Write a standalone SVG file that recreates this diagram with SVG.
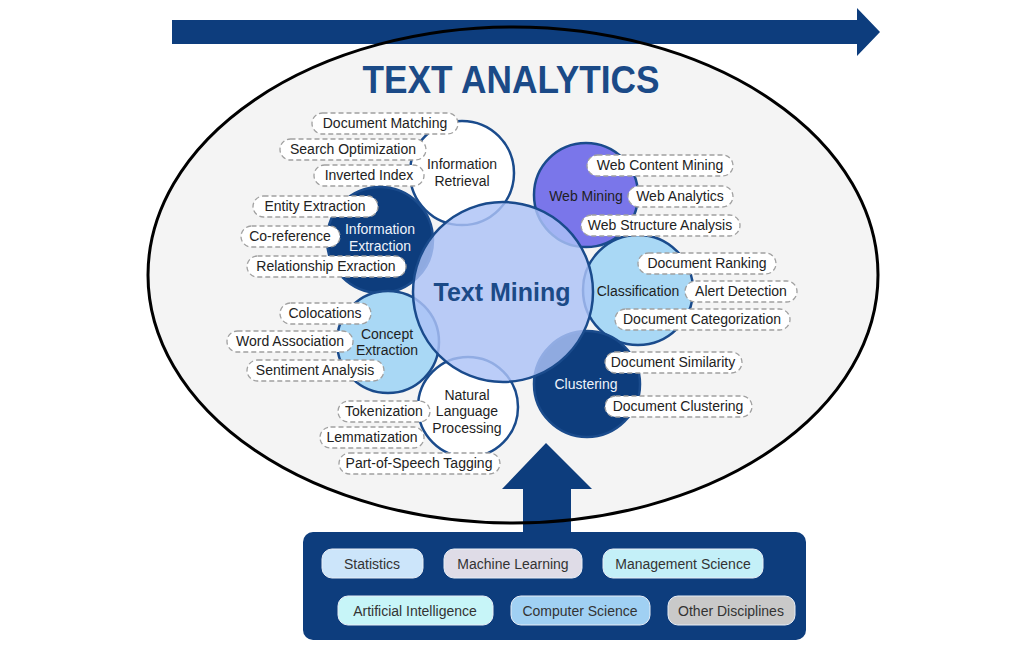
<svg xmlns="http://www.w3.org/2000/svg" width="1016" height="647" viewBox="0 0 1016 647">
<defs>
<style>
text{font-family:"Liberation Sans",Arial,sans-serif;}
.pill rect{fill:#ffffff;stroke:#a0a0a0;stroke-width:1.3;stroke-dasharray:5 3;}
.pill text{font-size:14px;fill:#222;text-anchor:middle;}
.sat{stroke:#1a4b8c;stroke-width:2.5;}
.lbl{font-size:14px;fill:#1e1e1e;text-anchor:middle;}
.lblw{font-size:14px;fill:#eef3fb;text-anchor:middle;}
.btn rect{stroke:#e8eef6;stroke-width:1;}
.btn text{font-size:14px;fill:#333;text-anchor:middle;}
.navy{fill:#0d3d7d;}
</style>
</defs>
<rect width="1016" height="647" fill="#ffffff"/>
<ellipse cx="513" cy="275" rx="365" ry="248" fill="#f4f4f4"/>
<g id="connectors">
<path class="navy" d="M172 20 H857 V8 L880 32 L857 56 V44 H172 Z"/>
<path class="navy" d="M523 534 V489 H502 L546 443 L592 489 H571 V534 Z"/>
</g>
<ellipse cx="513" cy="275" rx="365" ry="248" fill="none" stroke="#000" stroke-width="3"/>
<g id="title"><text x="511" y="93" font-size="38" font-weight="bold" fill="#1b4a87" text-anchor="middle" textLength="297" lengthAdjust="spacingAndGlyphs">TEXT ANALYTICS</text></g>

<g id="information-retrieval">
<circle class="sat" cx="462" cy="173" r="52" fill="#ffffff"/>
<text class="lbl" x="462" y="169">Information</text>
<text class="lbl" x="462" y="186">Retrieval</text>
<g class="pill"><rect x="312" y="113" width="146" height="21" rx="10.5"/><text x="385" y="128">Document Matching</text></g>
<g class="pill"><rect x="280" y="139" width="146" height="21" rx="10.5"/><text x="353" y="154">Search Optimization</text></g>
<g class="pill"><rect x="314" y="165" width="110" height="21" rx="10.5"/><text x="369" y="180">Inverted Index</text></g>
</g>

<g id="information-extraction">
<circle class="sat" cx="380" cy="240" r="53" fill="#0d3d7d"/>
<text class="lblw" x="380" y="234">Information</text>
<text class="lblw" x="380" y="251">Extraction</text>
<g class="pill"><rect x="253" y="196" width="125" height="21" rx="10.5"/><text x="315" y="211">Entity Extraction</text></g>
<g class="pill"><rect x="241" y="226" width="99" height="21" rx="10.5"/><text x="290" y="241">Co-reference</text></g>
<g class="pill"><rect x="247" y="256" width="159" height="21" rx="10.5"/><text x="326" y="271">Relationship Exraction</text></g>
</g>

<g id="concept-extraction">
<circle class="sat" cx="388" cy="342" r="51" fill="#a9d8f5"/>
<text class="lbl" x="387" y="339">Concept</text>
<text class="lbl" x="387" y="355">Extraction</text>
<g class="pill"><rect x="280" y="303" width="91" height="21" rx="10.5"/><text x="325" y="318">Colocations</text></g>
<g class="pill"><rect x="227" y="331" width="126" height="21" rx="10.5"/><text x="290" y="346">Word Association</text></g>
<g class="pill"><rect x="247" y="360" width="137" height="21" rx="10.5"/><text x="315" y="375">Sentiment Analysis</text></g>
</g>

<g id="natural-language-processing">
<circle class="sat" cx="468" cy="407" r="50" fill="#ffffff"/>
<text class="lbl" x="467" y="400">Natural</text>
<text class="lbl" x="467" y="416">Language</text>
<text class="lbl" x="467" y="433">Processing</text>
<g class="pill"><rect x="338" y="401" width="92" height="21" rx="10.5"/><text x="384" y="416">Tokenization</text></g>
<g class="pill"><rect x="320" y="427" width="104" height="21" rx="10.5"/><text x="372" y="442">Lemmatization</text></g>
<g class="pill"><rect x="339" y="453" width="161" height="21" rx="10.5"/><text x="419" y="468">Part-of-Speech Tagging</text></g>
</g>

<g id="classification">
<circle class="sat" cx="638" cy="290" r="55" fill="#a9d8f5"/>
<text class="lbl" x="638" y="296">Classification</text>
<g class="pill"><rect x="638" y="253" width="138" height="21" rx="10.5"/><text x="707" y="268">Document Ranking</text></g>
<g class="pill"><rect x="685" y="281" width="112" height="21" rx="10.5"/><text x="741" y="296">Alert Detection</text></g>
<g class="pill"><rect x="615" y="309" width="175" height="21" rx="10.5"/><text x="702" y="324">Document Categorization</text></g>
</g>

<g id="web-mining">
<circle class="sat" cx="586" cy="195" r="52" fill="#7a76ea"/>
<text class="lbl" x="586" y="201">Web Mining</text>
<g class="pill"><rect x="587" y="155" width="146" height="21" rx="10.5"/><text x="660" y="170">Web Content Mining</text></g>
<g class="pill"><rect x="628" y="186" width="105" height="21" rx="10.5"/><text x="680" y="201">Web Analytics</text></g>
<g class="pill"><rect x="581" y="215" width="159" height="21" rx="10.5"/><text x="660" y="230">Web Structure Analysis</text></g>
</g>

<g id="clustering">
<circle class="sat" cx="587" cy="384" r="53" fill="#0d3d7d"/>
<text class="lblw" x="586" y="389">Clustering</text>
<g class="pill"><rect x="605" y="352" width="137" height="21" rx="10.5"/><text x="673" y="367">Document Similarity</text></g>
<g class="pill"><rect x="605" y="396" width="147" height="21" rx="10.5"/><text x="678" y="411">Document Clustering</text></g>
</g>

<g id="text-mining">
<circle cx="503" cy="292" r="90" fill="#acc2f6" fill-opacity="0.82" stroke="#1a4b8c" stroke-width="2.5"/>
<text x="502" y="301" font-size="25" font-weight="bold" fill="#1b4a87" text-anchor="middle">Text Mining</text>
</g>

<g id="disciplines">
<rect x="303" y="532" width="503" height="108" rx="10" fill="#0d3d7d"/>
<g class="btn"><rect x="322" y="549" width="101" height="29" rx="10" fill="#cce5fa"/><text x="372" y="569">Statistics</text></g>
<g class="btn"><rect x="444" y="549" width="138" height="29" rx="10" fill="#dfdce7"/><text x="513" y="569">Machine Learning</text></g>
<g class="btn"><rect x="603" y="549" width="160" height="29" rx="10" fill="#c4f0f8"/><text x="683" y="569">Management Science</text></g>
<g class="btn"><rect x="338" y="596" width="155" height="29" rx="10" fill="#c7f5f8"/><text x="415" y="616">Artificial Intelligence</text></g>
<g class="btn"><rect x="511" y="596" width="139" height="29" rx="10" fill="#a0d0f3"/><text x="580" y="616">Computer Science</text></g>
<g class="btn"><rect x="668" y="596" width="127" height="29" rx="10" fill="#c9c9c9"/><text x="731" y="616">Other Disciplines</text></g>
</g>
</svg>
